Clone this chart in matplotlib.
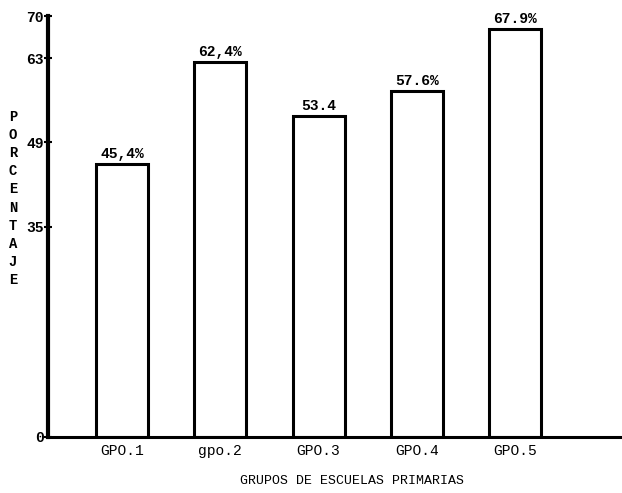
import matplotlib
matplotlib.use("Agg")
import matplotlib.pyplot as plt

categories = ["GPO.1", "gpo.2", "GPO.3", "GPO.4", "GPO.5"]
values = [45.4, 62.4, 53.4, 57.6, 67.9]
value_labels = ["45,4%", "62,4%", "53.4", "57.6%", "67.9%"]
yticks = [0, 35, 49, 63, 70]
ylabel_text = "PORCENTAJE"
xlabel_text = "GRUPOS DE ESCUELAS PRIMARIAS"

FONT = "Liberation Mono"

fig = plt.figure(figsize=(6.22, 4.93), dpi=100)
ax = fig.add_axes([48/622, 1-437/493, 1-48/622, (437-16)/493])

x = list(range(len(categories)))
ax.bar(x, values, width=0.53, facecolor="white", edgecolor="black", linewidth=2.2)
for xi, v, lab in zip(x, values, value_labels):
    ax.text(xi, v + 0.5, lab, ha="center", va="bottom", fontsize=10.5,
            family=FONT, fontweight="bold")

ax.set_xlim(-0.755, 5.09)
ax.set_ylim(0, 70)
ax.set_yticks(yticks)
ax.set_yticklabels([str(t) for t in yticks], family=FONT, fontsize=10.5, fontweight="bold")
ax.set_xticks(x)
ax.set_xticklabels(categories, family=FONT, fontsize=10.5)
ax.tick_params(axis="x", length=0, pad=5)
ax.tick_params(axis="y", direction="inout", length=6, width=1.5, pad=0)

for s in ["top", "right"]:
    ax.spines[s].set_visible(False)
ax.spines["left"].set_linewidth(3)
ax.spines["bottom"].set_linewidth(2.2)

# vertical stacked y-label
n = len(ylabel_text)
y_top, y_bot = 117, 280
for i, ch in enumerate(ylabel_text):
    yy = y_top + (y_bot - y_top) * i / (n - 1)
    fig.text(13/622, 1 - yy/493, ch, ha="center", va="center", fontsize=10,
             family=FONT, fontweight="bold")

fig.text(352/622, 1 - 481/493, xlabel_text, ha="center", va="center",
         fontsize=9.5, family=FONT)

fig.savefig("out.png", dpi=100)
